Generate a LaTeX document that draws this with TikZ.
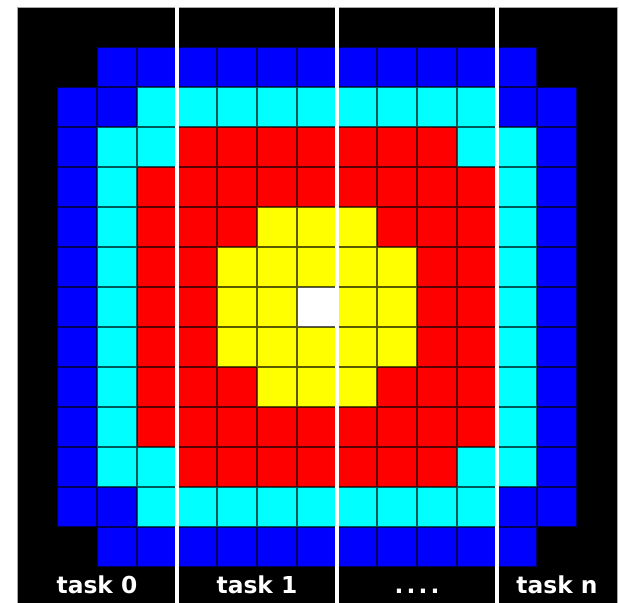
\documentclass[tikz,border=0pt]{standalone}
\usepackage{fontspec}
\setsansfont{DejaVu Sans}
\usetikzlibrary{positioning}
\definecolor{ringblue}{RGB}{0,0,255}
\definecolor{ringcyan}{RGB}{0,255,255}
\definecolor{ringred}{RGB}{255,0,0}
\definecolor{ringyellow}{RGB}{255,255,0}
% one colour ring: square of half size #1 round the centre cell, corners cut
\newcommand{\ring}[2]{%
  \fill[#2] ({7-#1},{-8+#1}) rectangle ({8+#1},{-7-#1});
  \fill[#2] ({8-#1},{-7+#1}) rectangle ({7+#1},{-8-#1});}

\begin{document}
\begin{tikzpicture}[tasklabel/.style={text=white,anchor=base,
    font=\sffamily\bfseries\fontsize{16.6}{20}\selectfont},
  cellgrid/.style={black,opacity=0.65,line width=1pt},
  split/.style={white,line width=2.2pt}]
\useasboundingbox (-0.425,0.175) rectangle (15.05,-14.9);
\fill[black,draw=gray!70,line width=0.6pt] (0,0) rectangle (15,-14.9);
\ring{6}{ringblue}
\ring{5}{ringcyan}
\ring{4}{ringred}
\ring{2}{ringyellow}
\ring{0}{white}
\draw[cellgrid] (1,-1) grid (14,-14);
\coordinate (s1) at (4,0);
\coordinate (s2) at (8,0);
\coordinate (s3) at (12,0);
\draw[split] (s1)--++(0,-14.9);
\draw[split] (s2)--++(0,-14.9);
\draw[split] (s3)--++(0,-14.9);
\node[tasklabel] (task0) at (2,-14.65) {task 0};
\node[tasklabel] (task1) at (6,-14.65) {task 1};
\node[tasklabel] (dots) at (10,-14.65) {.\kern2.2pt.\kern2.2pt.\kern2.2pt.};
\node[tasklabel] (taskn) at (13.5,-14.65) {task n};
\end{tikzpicture}
\end{document}
